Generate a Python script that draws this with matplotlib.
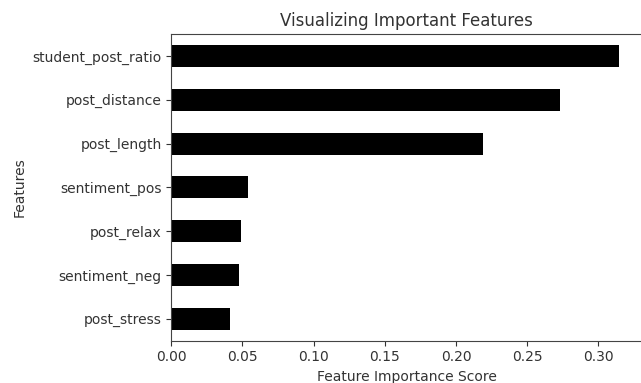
import matplotlib
matplotlib.use("Agg")
import matplotlib.pyplot as plt

# feature importances, smallest first (bottom to top)
features = ["post_stress", "sentiment_neg", "post_relax", "sentiment_pos",
            "post_length", "post_distance", "student_post_ratio"]
scores = [0.0415, 0.0476, 0.0492, 0.0541, 0.2188, 0.2732, 0.3148]

plt.rcParams["text.color"] = "#333333"
plt.rcParams["axes.labelcolor"] = "#333333"
plt.rcParams["xtick.color"] = "#333333"
plt.rcParams["ytick.color"] = "#333333"

fig = plt.figure(figsize=(6.41, 3.83), dpi=100)
ax = fig.add_axes([0.2672, 0.1104, 0.734, 0.8008])

ax.barh(range(len(features)), scores, height=0.5, color="black")
ax.set_yticks(range(len(features)))
ax.set_yticklabels(features)
ax.set_ylim(-0.5, len(features) - 0.5)
ax.set_xlim(0, max(scores) * 1.05)
ax.set_xticks([0.0, 0.05, 0.10, 0.15, 0.20, 0.25, 0.30])
ax.set_xticklabels(["0.00", "0.05", "0.10", "0.15", "0.20", "0.25", "0.30"])
for s in ax.spines.values():
    s.set_color("#444444")

ax.set_title("Visualizing Important Features", fontsize=12)
ax.set_xlabel("Feature Importance Score")
ax.set_ylabel("Features")

fig.savefig("out.png", dpi=100)
